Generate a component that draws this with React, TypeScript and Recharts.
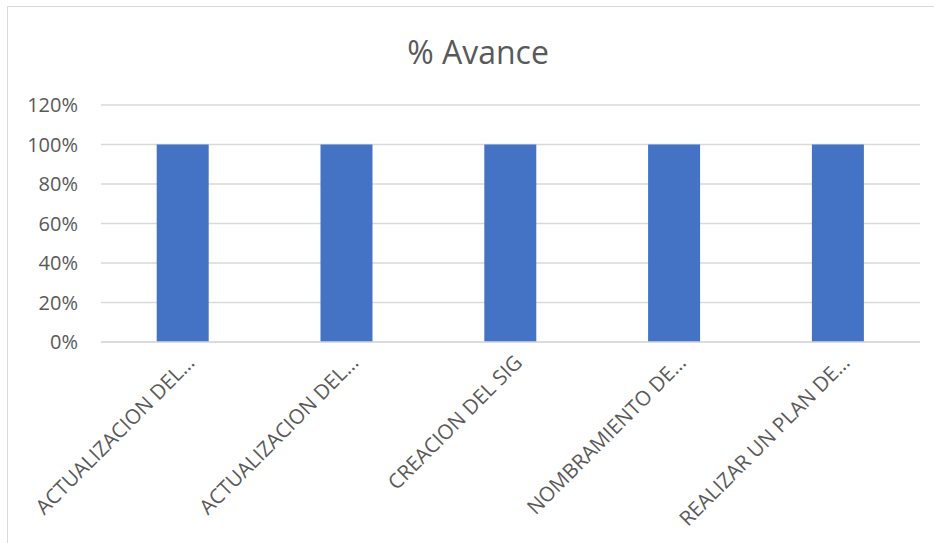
import React from 'react';
import { BarChart, Bar, XAxis, YAxis, CartesianGrid } from 'recharts';

const categories = [
  'ACTUALIZACION DEL…',
  'ACTUALIZACION DEL…',
  'CREACION DEL SIG',
  'NOMBRAMIENTO DE…',
  'REALIZAR UN PLAN DE…',
];
const avance = [1, 1, 1, 1, 1];
const yTicks = [0, 0.2, 0.4, 0.6, 0.8, 1, 1.2];

const data = categories.map((name, i) => ({ name, avance: avance[i] }));

const FONT = '"Open Sans", "Noto Sans", sans-serif';
const GREY = '#595959';

function XTick(props: any) {
  const { x, y, payload } = props;
  return (
    <g transform={`translate(${x + 13},${y + 14})`}>
      <text transform="rotate(-45)" textAnchor="end" fill={GREY} fontSize={20.5} fontFamily={FONT}>
        {payload.value}
      </text>
    </g>
  );
}

function YTick(props: any) {
  const { y, payload } = props;
  return (
    <text x={78} y={y} dy={7} textAnchor="end" fill={GREY} fontSize={20} fontFamily={FONT}>
      {`${Math.round(payload.value * 100)}%`}
    </text>
  );
}

export default function App() {
  return (
    <div style={{ position: 'absolute', left: 0, top: 0, width: 934, height: 543, background: '#fff', overflow: 'hidden' }}>
      <div
        style={{
          position: 'absolute',
          left: 7,
          top: 6,
          width: 960,
          height: 560,
          border: '1.5px solid #d9d9d9',
          boxSizing: 'border-box',
        }}
      />
      <div
        style={{
          position: 'absolute',
          left: 0,
          width: 956,
          top: 30,
          textAlign: 'center',
          fontFamily: FONT,
          fontSize: 32,
          color: GREY,
          lineHeight: '44px',
        }}
      >
        % Avance
      </div>
      <div style={{ position: 'absolute', left: 0, top: 0 }}>
        <BarChart
          width={934}
          height={543}
          data={data}
          margin={{ top: 105, right: 14, bottom: 0, left: 0 }}
          barCategoryGap="34%"
        >
          <CartesianGrid vertical={false} stroke="#d9d9d9" strokeWidth={1.5} />
          <XAxis
            dataKey="name"
            interval={0}
            height={201}
            axisLine={{ stroke: '#d9d9d9', strokeWidth: 1.5 }}
            tickLine={false}
            tick={<XTick />}
          />
          <YAxis
            width={101}
            domain={[0, 1.2]}
            ticks={yTicks}
            axisLine={false}
            tickLine={false}
            tick={<YTick />}
          />
          <Bar dataKey="avance" fill="#4472C4" isAnimationActive={false} />
        </BarChart>
      </div>
    </div>
  );
}
